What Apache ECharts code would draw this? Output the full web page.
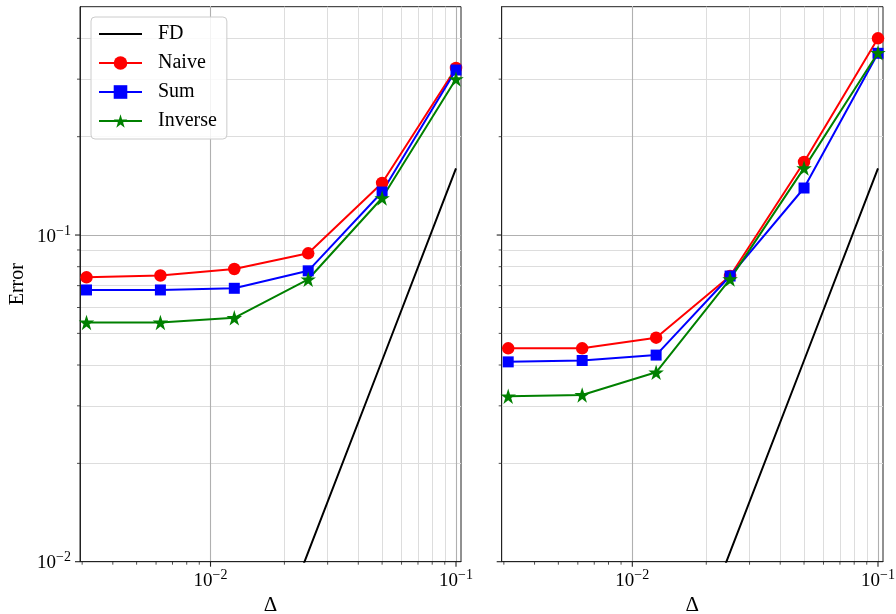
<!DOCTYPE html>
<html>
<head>
<meta charset="utf-8">
<script src="https://cdn.jsdelivr.net/npm/echarts@6/dist/echarts.min.js"></script>
<style>
  html, body { margin: 0; padding: 0; background: #ffffff; }
  #chart { width: 896px; height: 614px; }
</style>
</head>
<body>
<div id="chart"></div>
<script>
// Step sizes Δ, largest first
const deltas = [0.1, 0.05, 0.025, 0.0125, 0.00625, 0.003125];

// Finite-difference reference error (same in both panels)
const fdError = [0.160, 0.0413, 0.0107, 0.00276, 0.00071, 0.000184];

// Left panel errors
const naiveLeft   = [0.3245, 0.1443, 0.0879, 0.0787, 0.0752, 0.0742];
const sumLeft     = [0.320, 0.1354, 0.0777, 0.0687, 0.0679, 0.0679];
const inverseLeft = [0.3003, 0.1298, 0.0732, 0.0558, 0.0540, 0.0540];

// Right panel errors
const naiveRight   = [0.400, 0.1673, 0.0749, 0.0485, 0.0450, 0.0450];
const sumRight     = [0.360, 0.1393, 0.0749, 0.0429, 0.0413, 0.0409];
const inverseRight = [0.3614, 0.1603, 0.0733, 0.0380, 0.0324, 0.0321];

const seriesNames = ['FD', 'Naive', 'Sum', 'Inverse'];
const xLabel = 'Δ';
const yLabel = 'Error';

// Axis ranges and tick layout
const xRange = [0.00294, 0.1048];
const yRange = [0.01, 0.5];
const xMajorTicks = [0.01, 0.1];
const yMajorTicks = [0.01, 0.1];
const xDecades = [0.001, 0.01, 0.1];
const yDecades = [0.01, 0.1];
const minorFactors = [2, 3, 4, 5, 6, 7, 8, 9];

const FONT = 'Liberation Serif';
const COLORS = { FD: '#000000', Naive: '#ff0000', Sum: '#0000ff', Inverse: '#008000' };
const STAR = 'path://M0,-10L2.245,-3.09L9.511,-3.09L3.633,1.18L5.878,8.09L0,3.82L-5.878,8.09L-3.633,1.18L-9.511,-3.09L-2.245,-3.09Z';
// Plain line sample for the FD legend entry (thin bar centred in the icon box)
const LINE_ICON = 'path://M0,0L0,0M0,7.5L43,7.5L43,9.5L0,9.5ZM43,17L43,17';

function minorValues(decades, range) {
  const out = [];
  decades.forEach(d => minorFactors.forEach(f => {
    const v = +(d * f).toPrecision(6);
    if (v > range[0] * 1.0001 && v < range[1] * 0.9999) out.push(v);
  }));
  return out;
}
const xMinorTicks = minorValues(xDecades, xRange);
const yMinorTicks = minorValues(yDecades, yRange);

function powerLabel(v) {
  const l = Math.log10(v);
  const e = Math.round(l);
  if (Math.abs(l - e) > 1e-6) return '';
  return '{b|10}{s|' + (e < 0 ? '\u2212' : '') + Math.abs(e) + '}';
}
const labelRich = {
  b: { fontFamily: FONT, fontSize: 19, color: '#000', padding: [3, 0, 0, 0] },
  s: { fontFamily: FONT, fontSize: 14, color: '#000', verticalAlign: 'top' }
};

const grids = [
  { left: 80, top: 6.7, width: 381, height: 555 },
  { left: 501.7, top: 6.7, width: 381.3, height: 555 }
];

function pairs(vals) { return deltas.map((d, i) => [d, vals[i]]); }

// Grid lines drawn as mark lines at data values on the log axes
function gridLineSeries(g) {
  const major = { color: '#b0b0b0', width: 1.1, type: 'solid' };
  const minor = { color: '#dddddd', width: 1, type: 'solid' };
  const lines = [];
  xMinorTicks.forEach(v => lines.push({ xAxis: v, lineStyle: minor }));
  yMinorTicks.forEach(v => lines.push({ yAxis: v, lineStyle: minor }));
  xMajorTicks.forEach(v => lines.push({ xAxis: v, lineStyle: major }));
  yMajorTicks.filter(v => v > yRange[0]).forEach(v => lines.push({ yAxis: v, lineStyle: major }));
  return {
    type: 'line', xAxisIndex: g, yAxisIndex: g, z: 0, silent: true,
    data: [], symbol: 'none', lineStyle: { width: 0 },
    markLine: { silent: true, z: 0, symbol: ['none', 'none'], label: { show: false }, animation: false, data: lines }
  };
}

function dataSeries(g, naive, sum, inverse) {
  const common = { type: 'line', xAxisIndex: g, yAxisIndex: g, z: 6, clip: true, animation: false };
  return [
    Object.assign({}, common, { name: 'FD', data: pairs(fdError), symbol: 'none', showSymbol: false,
      lineStyle: { color: COLORS.FD, width: 2 }, itemStyle: { color: COLORS.FD } }),
    Object.assign({}, common, { name: 'Naive', data: pairs(naive), symbol: 'circle', symbolSize: 12.5,
      lineStyle: { color: COLORS.Naive, width: 2 }, itemStyle: { color: COLORS.Naive } }),
    Object.assign({}, common, { name: 'Sum', data: pairs(sum), symbol: 'rect', symbolSize: 11,
      lineStyle: { color: COLORS.Sum, width: 2 }, itemStyle: { color: COLORS.Sum } }),
    Object.assign({}, common, { name: 'Inverse', data: pairs(inverse), symbol: STAR, symbolSize: 15.5,
      lineStyle: { color: COLORS.Inverse, width: 2 }, itemStyle: { color: COLORS.Inverse } })
  ];
}

function xAxisFor(g) {
  return {
    type: 'log', logBase: 10, gridIndex: g, min: xRange[0], max: xRange[1],
    name: xLabel, nameLocation: 'middle', nameGap: 33, nameMoveOverlap: false,
    nameTextStyle: { fontFamily: FONT, fontSize: 21, color: '#000' },
    axisLine: { show: true, lineStyle: { color: '#222', width: 1 } },
    axisTick: { show: false }, splitLine: { show: false }, minorTick: { show: false },
    axisLabel: { margin: 7, formatter: powerLabel, rich: labelRich }
  };
}
function yAxisFor(g) {
  return {
    type: 'log', logBase: 10, gridIndex: g, min: yRange[0], max: yRange[1],
    name: g === 0 ? yLabel : '', nameLocation: 'middle', nameGap: 52, nameRotate: 90, nameMoveOverlap: false,
    nameTextStyle: { fontFamily: FONT, fontSize: 20, color: '#000' },
    axisLine: { show: true, lineStyle: { color: '#222', width: 1 } },
    axisTick: { show: false }, splitLine: { show: false }, minorTick: { show: false },
    axisLabel: { show: g === 0, margin: 9, formatter: powerLabel, rich: labelRich }
  };
}

const chart = echarts.init(document.getElementById('chart'), null, { renderer: 'canvas' });
const option = {
  animation: false,
  backgroundColor: '#ffffff',
  grid: grids.map(r => Object.assign({ show: true, borderColor: '#222', borderWidth: 1, backgroundColor: 'transparent',
    containLabel: false, outerBoundsMode: 'none' }, r)),
  xAxis: [xAxisFor(0), xAxisFor(1)],
  yAxis: [yAxisFor(0), yAxisFor(1)],
  legend: {
    data: [{ name: 'FD', icon: LINE_ICON }, 'Naive', 'Sum', 'Inverse'],
    orient: 'vertical', left: 91, top: 17,
    itemWidth: 43, itemHeight: 17, itemGap: 9,
    padding: [7, 10, 8, 7],
    backgroundColor: 'rgba(255,255,255,0.85)', borderColor: '#cccccc', borderWidth: 1, borderRadius: 4,
    selectedMode: false, z: 10,
    textStyle: { fontFamily: FONT, fontSize: 20, color: '#000', lineHeight: 17, padding: [0, 0, 0, 11] }
  },
  series: [
    gridLineSeries(0), gridLineSeries(1),
    ...dataSeries(0, naiveLeft, sumLeft, inverseLeft),
    ...dataSeries(1, naiveRight, sumRight, inverseRight)
  ]
};
chart.setOption(option);

// Outward tick marks (major and minor) placed through the axis scales
function tickMarks() {
  const els = [];
  const stroke = '#222';
  for (let g = 0; g < 2; g++) {
    const addX = (v, len, w) => {
      const p = chart.convertToPixel({ gridIndex: g }, [v, yRange[0]]);
      els.push({ type: 'line', silent: true, z: 10,
        shape: { x1: p[0], y1: p[1], x2: p[0], y2: p[1] + len }, style: { stroke, lineWidth: w } });
    };
    const addY = (v, len, w) => {
      const p = chart.convertToPixel({ gridIndex: g }, [xRange[0], v]);
      els.push({ type: 'line', silent: true, z: 10,
        shape: { x1: p[0] - len, y1: p[1], x2: p[0], y2: p[1] }, style: { stroke, lineWidth: w } });
    };
    xMajorTicks.forEach(v => addX(v, 5, 1.1));
    xMinorTicks.forEach(v => addX(v, 3, 0.8));
    yMajorTicks.forEach(v => addY(v, 5, 1.1));
    yMinorTicks.forEach(v => addY(v, 3, 0.8));
  }
  return els;
}
chart.setOption({ graphic: tickMarks() });
</script>
</body>
</html>
